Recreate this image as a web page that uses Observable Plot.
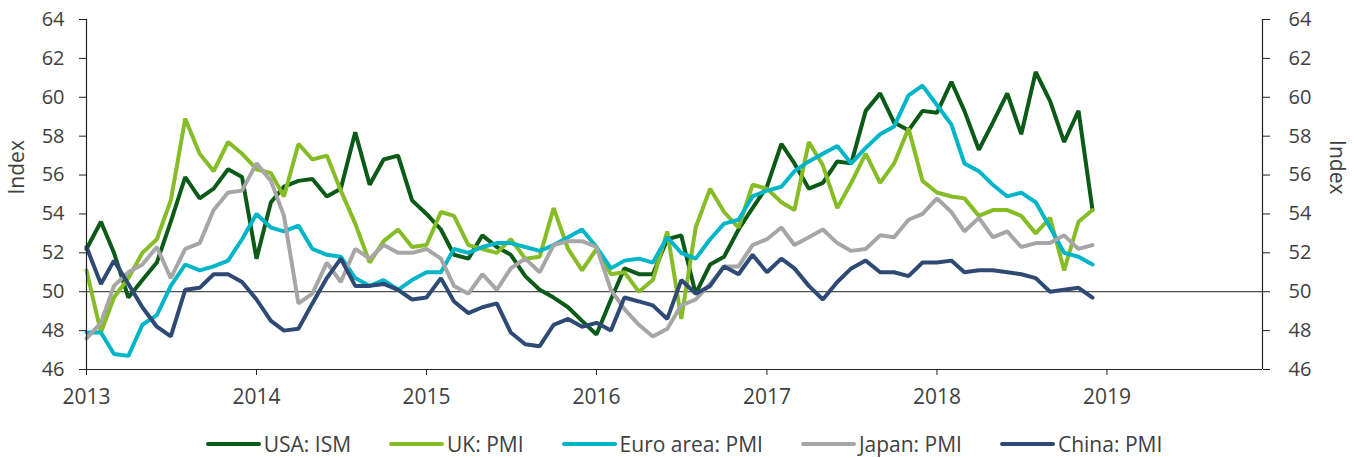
<!DOCTYPE html>
<html><head><meta charset="utf-8">
<script src="https://cdn.jsdelivr.net/npm/d3@7"></script>
<script src="https://cdn.jsdelivr.net/npm/@observablehq/plot@0.6"></script>
<style>
body{margin:0;background:#fff;font-family:"Open Sans",sans-serif;}
#legend{display:flex;justify-content:center;gap:38px;margin-top:6px;padding-left:14px;font-size:21px;color:#404040;line-height:26px;}
.item{display:flex;align-items:center;}
.sw{width:55px;height:4px;border-radius:2px;margin-right:3px;}
</style></head><body><div id="chart"></div><div id="legend"></div>
<script>
const seriesNames = ["USA: ISM", "UK: PMI", "Euro area: PMI", "Japan: PMI", "China: PMI"];
const seriesColors = ["#0B5A17", "#86BC25", "#00B5C8", "#A6A6A6", "#2E4A74"];
const yTicks = [46, 48, 50, 52, 54, 56, 58, 60, 62, 64];
const startMonth = "2013-01-01";
const endDomain = "2019-12-01";

const usa = [52.2,53.6,52.0,49.7,50.6,51.5,53.6,55.9,54.8,55.3,56.3,55.9,
  51.7,54.6,55.4,55.7,55.8,54.9,55.3,58.2,55.5,56.8,57.0,54.7,
  54.0,53.2,51.9,51.7,52.9,52.3,51.9,50.8,50.1,49.7,49.2,48.5,
  47.8,49.6,51.2,50.9,50.9,52.7,52.9,49.9,51.4,51.8,53.2,54.3,
  55.4,57.6,56.6,55.3,55.6,56.7,56.6,59.3,60.2,58.7,58.3,59.3,
  59.2,60.8,59.3,57.3,58.7,60.2,58.1,61.3,59.8,57.7,59.3,54.2];
const uk = [51.1,47.9,49.7,50.7,52.0,52.7,54.7,58.9,57.1,56.2,57.7,57.1,
  56.3,56.1,54.9,57.6,56.8,57.0,55.2,53.5,51.5,52.6,53.2,52.3,
  52.4,54.1,53.9,52.4,52.2,52.0,52.7,51.7,51.8,54.3,52.2,51.1,
  52.2,50.9,51.0,50.0,50.6,53.1,48.6,53.3,55.3,54.1,53.3,55.5,
  55.3,54.6,54.2,57.7,56.5,54.3,55.6,57.1,55.6,56.6,58.4,55.7,
  55.1,54.9,54.8,53.9,54.2,54.2,53.9,53.0,53.8,51.1,53.6,54.2];
const euro = [47.9,47.9,46.8,46.7,48.3,48.8,50.3,51.4,51.1,51.3,51.6,52.7,
  54.0,53.3,53.1,53.4,52.2,51.9,51.8,50.7,50.3,50.6,50.1,50.6,
  51.0,51.0,52.2,52.0,52.3,52.5,52.5,52.3,52.1,52.4,52.8,53.2,
  52.3,51.2,51.6,51.7,51.5,52.8,52.0,51.7,52.7,53.5,53.7,54.9,
  55.2,55.4,56.2,56.7,57.1,57.5,56.6,57.4,58.1,58.5,60.1,60.6,
  59.6,58.6,56.6,56.2,55.5,54.9,55.1,54.6,53.3,52.0,51.8,51.4];
const japan = [47.6,48.4,50.3,51.0,51.4,52.3,50.7,52.2,52.5,54.2,55.1,55.2,
  56.6,55.7,53.9,49.4,49.9,51.5,50.5,52.2,51.7,52.4,52.0,52.0,
  52.2,51.7,50.3,49.9,50.9,50.1,51.2,51.7,51.0,52.4,52.6,52.6,
  52.3,50.1,49.1,48.3,47.7,48.1,49.3,49.6,50.4,51.3,51.3,52.4,
  52.7,53.3,52.4,52.8,53.2,52.5,52.1,52.2,52.9,52.8,53.7,54.0,
  54.8,54.1,53.1,53.8,52.8,53.1,52.3,52.5,52.5,52.9,52.2,52.4];
const china = [52.3,50.4,51.6,50.4,49.2,48.2,47.7,50.1,50.2,50.9,50.9,50.5,
  49.6,48.5,48.0,48.1,49.4,50.7,51.7,50.3,50.3,50.4,50.1,49.6,
  49.7,50.7,49.5,48.9,49.2,49.4,47.9,47.3,47.2,48.3,48.6,48.2,
  48.4,48.0,49.7,49.5,49.3,48.6,50.6,49.9,50.3,51.3,50.9,51.9,
  51.0,51.7,51.2,50.3,49.6,50.5,51.2,51.6,51.0,51.0,50.8,51.5,
  51.5,51.6,51.0,51.1,51.1,51.0,50.9,50.7,50.0,50.1,50.2,49.7];

const allSeries = [usa, uk, euro, japan, china];
const months = d3.utcMonth.range(new Date(startMonth), new Date("2019-01-01"));
const data = [];
allSeries.forEach((vals, si) => vals.forEach((v, i) => data.push({date: months[i], value: v, series: seriesNames[si]})));

const x0 = new Date(startMonth), x1 = new Date(endDomain);
const ink = "#404040";

const chart = Plot.plot({
  width: 1354,
  height: 425,
  marginLeft: 86,
  marginRight: 92,
  marginTop: 19,
  marginBottom: 56,
  style: {fontFamily: '"Open Sans", sans-serif', fontSize: "20px", color: ink, background: "#fff"},
  x: {type: "utc", domain: [x0, x1]},
  y: {domain: [46, 64]},
  color: {domain: seriesNames, range: seriesColors},
  marks: [
    Plot.ruleY([50], {stroke: "#222", strokeWidth: 1}),
    Plot.line(data, {x: "date", y: "value", z: "series", stroke: "series", strokeWidth: 4, strokeLinejoin: "miter"}),
    Plot.ruleY([46], {stroke: "#222", strokeWidth: 1.2}),
    Plot.ruleX([x0, x1], {stroke: "#222", strokeWidth: 1.2}),
    Plot.axisX({ticks: d3.utcYear.every(1), tickFormat: "%Y", tickSize: 6, tickPadding: 14, stroke: "#222", fill: ink, fontSize: 21, label: null}),
    Plot.axisY({anchor: "left", ticks: yTicks, tickSize: 7, tickPadding: 15, stroke: "#222", fill: ink, fontSize: 20, label: null}),
    Plot.axisY({anchor: "right", ticks: yTicks, tickSize: 7, tickPadding: 19, stroke: "#222", fill: ink, fontSize: 20, label: null}),
    Plot.text(["Index"], {frameAnchor: "left", dx: -69, rotate: -90, fill: ink, fontSize: 21}),
    Plot.text(["Index"], {frameAnchor: "right", dx: 74, rotate: 90, fill: ink, fontSize: 21})
  ]
});
document.getElementById("chart").appendChild(chart);

const legend = document.getElementById("legend");
seriesNames.forEach((n, i) => {
  const it = document.createElement("div");
  it.className = "item";
  it.innerHTML = `<span class="sw" style="background:${seriesColors[i]}"></span><span>${n}</span>`;
  legend.appendChild(it);
});
</script>
</body></html>
